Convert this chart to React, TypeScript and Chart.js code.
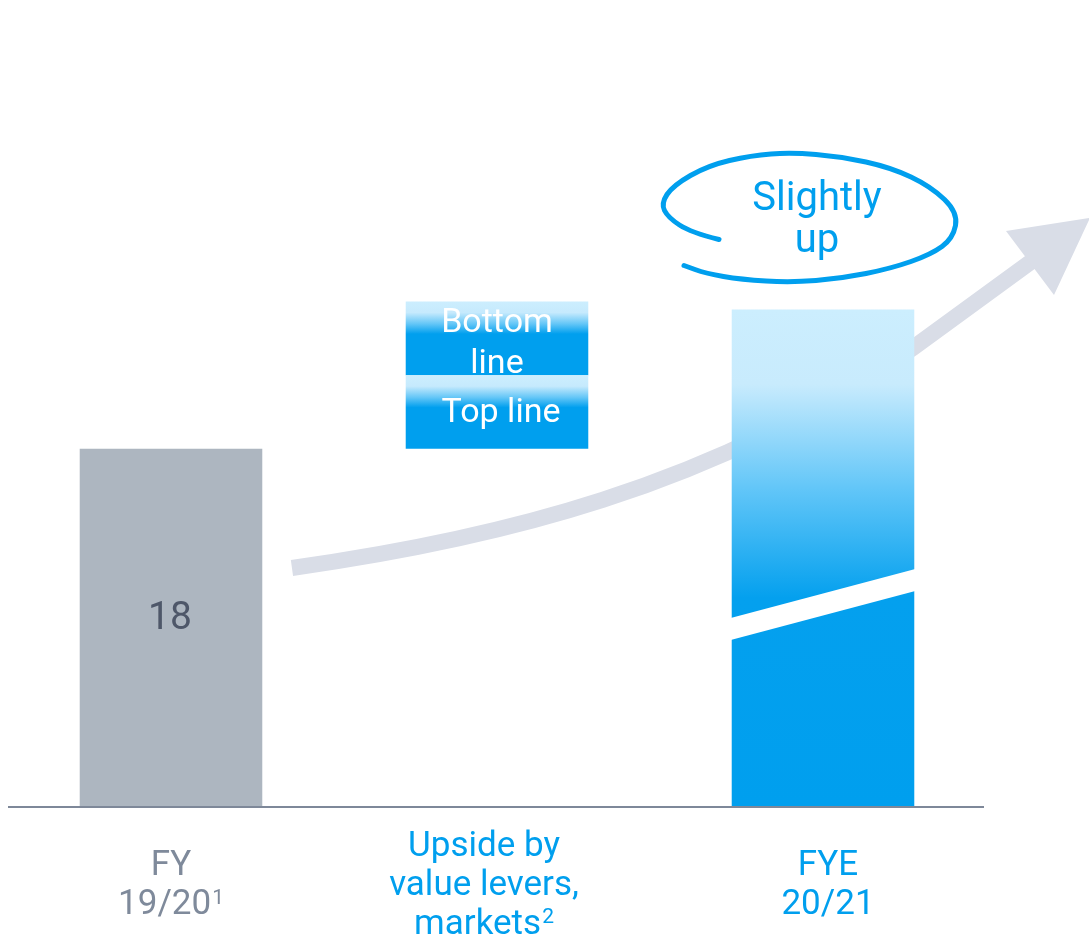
import React, { useEffect, useRef } from 'react';
import { Chart, registerables } from 'chart.js';

Chart.register(...registerables);

// ---- data ----
const categories = ['FY 19/20', 'Upside by value levers, markets', 'FYE 20/21'];
const categoryLines = [['FY', '19/20'], ['Upside by', 'value levers,', 'markets'], ['FYE', '20/21']];
const categoryFootnotes = ['1', '2', ''];
const baseValues = [18, null, 25];
const topLineRange = [null, [18, 21.7], null];
const bottomLineRange = [null, [21.7, 25.4], null];
const valueLabels = ['18', '', ''];
const topLineLabel = ['Top line'];
const bottomLineLabel = ['Bottom', 'line'];
const calloutLines = ['Slightly', 'up'];

// ---- styling ----
const BLUE = '#009FEE';
const LIGHT_BLUE = '#CCEEFE';
const GREY_BAR = '#ADB6C0';
const ARROW = '#D9DDE7';
const AXIS = '#7E8899';
const labelColors = ['#7F8A9B', BLUE, BLUE];
const labelOffsets = [0, -13, 5];
const FONT = 'Roboto, "Noto Sans", sans-serif';

function vGrad(chart: any, top: number, bottom: number, stops: [number, string][]) {
  const g = chart.ctx.createLinearGradient(0, top, 0, bottom);
  stops.forEach(([o, c]) => g.addColorStop(o, c));
  return g;
}

function rangePixels(ctx: any) {
  const y = ctx.chart.scales.y;
  const raw = ctx.raw as number[];
  return [y.getPixelForValue(Math.max(raw[0], raw[1])), y.getPixelForValue(Math.min(raw[0], raw[1]))];
}

function mainColor(ctx: any) {
  const chart = ctx.chart;
  if (!chart.chartArea || !ctx.raw) return GREY_BAR;
  if (ctx.dataIndex === 0) return GREY_BAR;
  const [top, bottom] = rangePixels(ctx);
  return vGrad(chart, top, bottom, [
    [0, LIGHT_BLUE],
    [0.15, '#C8EBFD'],
    [0.36, '#62C6F8'],
    [0.58, '#04A0EE'],
    [1, BLUE],
  ]);
}

function boxColor(ctx: any) {
  const chart = ctx.chart;
  if (!chart.chartArea || !ctx.raw) return BLUE;
  const [top, bottom] = rangePixels(ctx);
  return vGrad(chart, top, bottom, [
    [0, LIGHT_BLUE],
    [0.15, '#C6EAFD'],
    [0.3, '#66C7F7'],
    [0.44, BLUE],
    [1, BLUE],
  ]);
}

function drawTextWithSup(c: CanvasRenderingContext2D, text: string, sup: string, cx: number, baseline: number, size: number) {
  c.font = `${size}px ${FONT}`;
  const w = c.measureText(text).width;
  const supSize = Math.round(size * 0.6);
  c.font = `${supSize}px ${FONT}`;
  const sw = sup ? c.measureText(sup).width + 1 : 0;
  const x0 = cx - (w + sw) / 2;
  c.textAlign = 'left';
  c.textBaseline = 'alphabetic';
  c.font = `${size}px ${FONT}`;
  c.fillText(text, x0, baseline);
  if (sup) {
    c.font = `${supSize}px ${FONT}`;
    c.fillText(sup, x0 + w + 1, baseline - size * 0.3);
  }
}

const decorPlugin = {
  id: 'decor',
  beforeDatasetsDraw(chart: any) {
    const c: CanvasRenderingContext2D = chart.ctx;
    const xs = chart.scales.x;
    const ys = chart.scales.y;
    const P = (i: number, v: number) => [xs.getPixelForValue(i), ys.getPixelForValue(v)];
    const p0 = P(0.371, 12.01);
    const p1 = P(0.985, 13.42);
    const p2 = P(1.663, 16.03);
    const p3 = P(2.276, 23.07);
    const p4 = P(2.635, 27.34);
    const tip = P(2.819, 29.6);
    c.save();
    c.strokeStyle = ARROW;
    c.fillStyle = ARROW;
    c.lineWidth = 16;
    c.lineCap = 'butt';
    c.lineJoin = 'round';
    c.beginPath();
    c.moveTo(p0[0], p0[1]);
    c.bezierCurveTo(p1[0], p1[1], p2[0], p2[1], p3[0], p3[1]);
    c.lineTo(p4[0] + 2, p4[1] - 2);
    c.stroke();
    const dx = tip[0] - p4[0];
    const dy = tip[1] - p4[1];
    const len = Math.hypot(dx, dy);
    const nx = -dy / len;
    const ny = dx / len;
    const hw = 40;
    c.beginPath();
    c.moveTo(p4[0] + nx * hw, p4[1] + ny * hw);
    c.lineTo(tip[0], tip[1]);
    c.lineTo(p4[0] - nx * hw, p4[1] - ny * hw);
    c.closePath();
    c.fill();
    c.restore();
  },
  afterDatasetsDraw(chart: any) {
    const c: CanvasRenderingContext2D = chart.ctx;
    const area = chart.chartArea;
    const ys = chart.scales.y;
    const xs = chart.scales.x;
    const mainMeta = chart.getDatasetMeta(0);
    const topMeta = chart.getDatasetMeta(1);
    const botMeta = chart.getDatasetMeta(2);
    c.save();

    // break band on FYE bar
    const fye = mainMeta.data[2];
    if (fye) {
      const l = fye.x - fye.width / 2 - 1;
      const r = fye.x + fye.width / 2 + 1;
      const yl = ys.getPixelForValue(9.5);
      const yr = ys.getPixelForValue(11.96);
      const gap = 22;
      c.fillStyle = '#FFFFFF';
      c.beginPath();
      c.moveTo(l, yl);
      c.lineTo(r, yr);
      c.lineTo(r, yr + gap);
      c.lineTo(l, yl + gap);
      c.closePath();
      c.fill();
    }

    // value label
    valueLabels.forEach((t, i) => {
      const el = mainMeta.data[i];
      if (!t || !el) return;
      c.fillStyle = '#4E5769';
      c.font = `39px ${FONT}`;
      c.textAlign = 'center';
      c.textBaseline = 'middle';
      c.fillText(t, el.x - 1, (el.y + el.base) / 2 - 9);
    });

    // box labels
    c.fillStyle = '#FFFFFF';
    c.font = `34px ${FONT}`;
    c.textAlign = 'center';
    c.textBaseline = 'alphabetic';
    const tb = topMeta.data[1];
    if (tb) {
      const cy = (tb.y + tb.base) / 2;
      c.fillText(topLineLabel[0], tb.x + 4, cy + 10);
    }
    const bb = botMeta.data[1];
    if (bb) {
      const cy = (bb.y + bb.base) / 2;
      c.fillText(bottomLineLabel[0], bb.x, cy - 6);
      c.fillText(bottomLineLabel[1], bb.x, cy + 35);
    }

    // axis line
    c.strokeStyle = AXIS;
    c.lineWidth = 2;
    c.beginPath();
    c.moveTo(area.left, area.bottom);
    c.lineTo(area.right - 2, area.bottom);
    c.stroke();

    // category labels
    const lh = 39;
    categoryLines.forEach((lines, i) => {
      const cx = xs.getPixelForValue(i) + labelOffsets[i];
      const center = area.bottom + 75;
      c.fillStyle = labelColors[i];
      lines.forEach((line, k) => {
        const baseline = center - ((lines.length - 1) * lh) / 2 + k * lh + 12.5;
        const sup = k === lines.length - 1 ? categoryFootnotes[i] : '';
        drawTextWithSup(c, line, sup, cx, baseline, 35);
      });
    });

    // callout ellipse
    if (fye) {
      const ax = fye.x;
      const ay = fye.y;
      const pts = [
        [-104, -70], [-132, -77], [-155, -92], [-162, -106], [-150, -124], [-115, -144],
        [-72, -154], [-32, -157], [18, -153], [68, -142], [108, -123], [135, -97],
        [130, -71], [108, -55], [68, -41], [18, -31], [-32, -27], [-82, -30],
        [-117, -36], [-139, -44],
      ].map(([x, y]) => [ax + x, ay + y]);
      c.strokeStyle = BLUE;
      c.lineWidth = 5;
      c.lineCap = 'round';
      c.lineJoin = 'round';
      c.beginPath();
      c.moveTo(pts[0][0], pts[0][1]);
      for (let i = 1; i < pts.length - 1; i++) {
        const mx = (pts[i][0] + pts[i + 1][0]) / 2;
        const my = (pts[i][1] + pts[i + 1][1]) / 2;
        c.quadraticCurveTo(pts[i][0], pts[i][1], mx, my);
      }
      const last = pts[pts.length - 1];
      c.lineTo(last[0], last[1]);
      c.stroke();

      c.fillStyle = BLUE;
      c.font = `40px ${FONT}`;
      c.textAlign = 'center';
      c.textBaseline = 'alphabetic';
      c.fillText(calloutLines[0], ax - 6, ay - 100);
      c.fillText(calloutLines[1], ax - 6, ay - 58);
    }
    c.restore();
  },
};

export default function App() {
  const ref = useRef<HTMLCanvasElement | null>(null);
  useEffect(() => {
    if (!ref.current) return;
    const chart = new Chart(ref.current, {
      type: 'bar',
      data: {
        labels: categories,
        datasets: [
          {
            label: 'Result',
            data: baseValues.map((v) => (v === null ? null : [0, v])) as any,
            backgroundColor: mainColor as any,
            borderWidth: 0,
            grouped: false,
            categoryPercentage: 1,
            barPercentage: 0.56,
          },
          {
            label: 'Top line',
            data: topLineRange as any,
            backgroundColor: boxColor as any,
            borderWidth: 0,
            grouped: false,
            categoryPercentage: 1,
            barPercentage: 0.56,
          },
          {
            label: 'Bottom line',
            data: bottomLineRange as any,
            backgroundColor: boxColor as any,
            borderWidth: 0,
            grouped: false,
            categoryPercentage: 1,
            barPercentage: 0.56,
          },
        ],
      },
      options: {
        responsive: false,
        animation: false,
        layout: { padding: { left: 8, right: 103, top: 11, bottom: 134 } },
        plugins: { legend: { display: false }, tooltip: { enabled: false } },
        scales: {
          x: { display: false, offset: true },
          y: { display: false, min: 0, max: 40 },
        },
      },
      plugins: [decorPlugin],
    });
    return () => chart.destroy();
  }, []);
  return (
    <div style={{ position: 'fixed', left: 0, top: 0, width: 1089, height: 941, background: '#fff' }}>
      <canvas ref={ref} width={1089} height={941} style={{ display: 'block' }} />
    </div>
  );
}
